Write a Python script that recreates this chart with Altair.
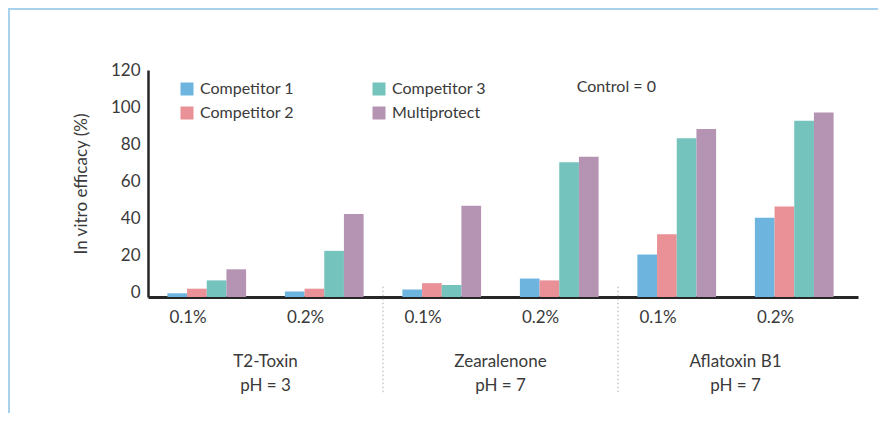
import altair as alt
import pandas as pd

toxins = ["T2-Toxin", "Zearalenone", "Aflatoxin B1"]
ph_labels = ["pH = 3", "pH = 7", "pH = 7"]
doses = ["0.1%", "0.2%"]
series = ["Competitor 1", "Competitor 2", "Competitor 3", "Multiprotect"]
series_colors = ["#6db4df", "#e99196", "#75c3bd", "#b493b3"]
comp1 = [2, 3, 4, 10, 23, 43]
comp2 = [4.5, 4.5, 7.5, 9, 34, 49]
comp3 = [9, 25, 6.5, 73, 86, 95.5]
multi = [15, 45, 49.5, 76, 91, 100]
y_ticks = [0, 20, 40, 60, 80, 100, 120]
control_note = "Control = 0"
y_title = "In vitro efficacy (%)"

FONT = "Lato"
TXT = "#3a3a3a"

groups = [f"{t}|{d}" for t in toxins for d in doses]
values = {"Competitor 1": comp1, "Competitor 2": comp2, "Competitor 3": comp3, "Multiprotect": multi}
rows = []
for s in series:
    for g, v in zip(groups, values[s]):
        rows.append({"group": g, "series": s, "value": v})
df = pd.DataFrame(rows)

xscale = alt.Scale(paddingInner=0, paddingOuter=0.0213, align=0)

bars = alt.Chart(df).mark_bar().encode(
    x=alt.X("group:N", sort=groups, scale=xscale,
            axis=alt.Axis(title=None, labelExpr="split(datum.label, '|')[1]", ticks=False,
                          domainColor="#262626", domainWidth=3, labelFontSize=17,
                          labelPadding=20, labelColor=TXT, labelFont=FONT, labelAngle=0)),
    xOffset=alt.XOffset("series:N", sort=series, scale=alt.Scale(paddingInner=0, paddingOuter=0.985)),
    y=alt.Y("value:Q", scale=alt.Scale(domain=[0, 123], nice=False),
            axis=alt.Axis(values=y_ticks, title=y_title, grid=False, ticks=False, labelOffset=-5,
                          domainColor="#262626", domainWidth=2.5, labelFontSize=17, labelPadding=8,
                          labelColor=TXT, labelFont=FONT, titleFont=FONT, titleFontSize=17,
                          titleFontWeight="normal", titleColor=TXT, titlePadding=20)),
    color=alt.Color("series:N", scale=alt.Scale(domain=series, range=series_colors),
                    legend=alt.Legend(title=None, orient="none", legendX=31, legendY=11, columns=2,
                                      columnPadding=77, rowPadding=8, symbolType="square",
                                      symbolSize=169, symbolStrokeWidth=0, labelFontSize=16,
                                      labelFont=FONT, labelColor=TXT, labelOffset=5, padding=0)),
)

tox_df = pd.DataFrame({"group": [f"{t}|{doses[1]}" for t in toxins],
                       "label": [f"{t}\n{p}" for t, p in zip(toxins, ph_labels)]})
tox_text = alt.Chart(tox_df).mark_text(font=FONT, fontSize=17, color=TXT, lineBreak="\n",
                                       lineHeight=24, baseline="middle", align="center").encode(
    x=alt.X("group:N", sort=groups, bandPosition=0, title=None),
    y=alt.value(292),
    text="label:N",
)

sep_df = pd.DataFrame({"group": [f"{t}|{doses[0]}" for t in toxins[1:]]})
seps = alt.Chart(sep_df).mark_rule(color="#aaaaaa", strokeWidth=1, strokeDash=[1.5, 2.5]).encode(
    x=alt.X("group:N", sort=groups, bandPosition=0, title=None),
    y=alt.value(216.7),
    y2=alt.value(322.7),
)

note = alt.Chart(pd.DataFrame({"t": [control_note]})).mark_text(
    font=FONT, fontSize=16, color=TXT, align="left", baseline="middle").encode(
    x=alt.value(428.7), y=alt.value(16.7), text="t:N")

one = pd.DataFrame({"a": [0]})
frame_left = alt.Chart(one).mark_rule(color="#a8d1ec", strokeWidth=2).encode(
    x=alt.value(-139), y=alt.value(-61), y2=alt.value(345))
frame_top = alt.Chart(one).mark_rule(color="#a8d1ec", strokeWidth=2).encode(
    x=alt.value(-140), x2=alt.value(735), y=alt.value(-61))

chart = alt.layer(frame_left, frame_top, seps, bars, tox_text, note).properties(
    width=710, height=227,
    padding={"left": 140, "top": 62, "right": 20, "bottom": 116},
    autosize=alt.AutoSizeParams(type="none"),
    background="white",
).configure_view(stroke=None)

chart.save("out.html", embed_options={"renderer": "svg", "actions": False})
